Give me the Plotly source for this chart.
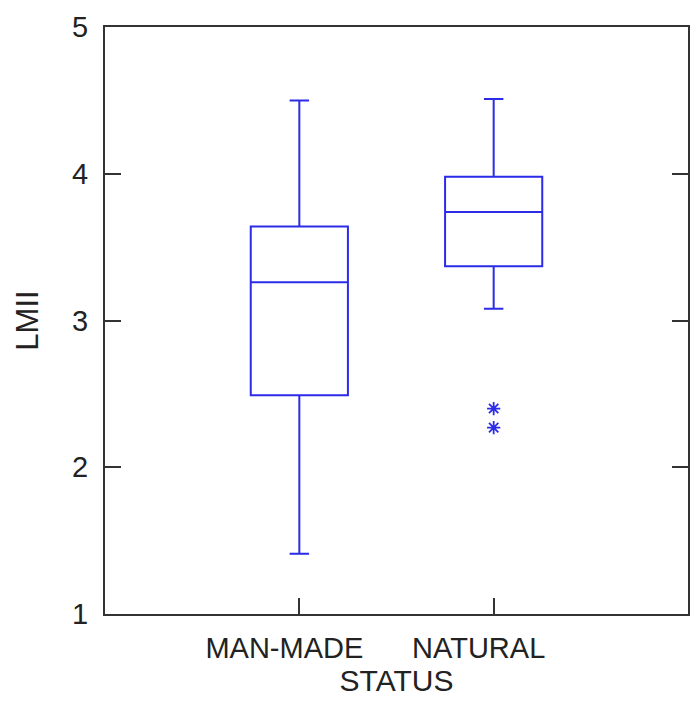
import plotly.graph_objects as go

categories = ["MAN-MADE", "NATURAL"]
q1 = [2.49, 3.37]
median = [3.26, 3.74]
q3 = [3.64, 3.98]
lower_whisker = [1.41, 3.08]
upper_whisker = [4.50, 4.51]
outlier_cat = ["NATURAL", "NATURAL"]
outlier_vals = [2.40, 2.27]
y_ticks = [1, 2, 3, 4, 5]

BLUE = "#2b2be8"
AXC = "#333333"
FONT = "Liberation Sans, Arial, sans-serif"

fig = go.Figure()
for i, c in enumerate(categories):
    fig.add_trace(go.Box(
        x=[c], q1=[q1[i]], median=[median[i]], q3=[q3[i]],
        lowerfence=[lower_whisker[i]], upperfence=[upper_whisker[i]],
        width=0.5, whiskerwidth=0.2,
        line=dict(color=BLUE, width=2), fillcolor="rgba(0,0,0,0)",
        boxpoints=False, showlegend=False,
    ))
fig.add_trace(go.Scatter(
    x=outlier_cat, y=outlier_vals, mode="markers",
    marker=dict(symbol="asterisk-open", size=11, color=BLUE,
                line=dict(color=BLUE, width=1.8)),
    showlegend=False,
))

fig.update_layout(
    width=692, height=705,
    margin=dict(l=105, r=2, t=27, b=91),
    paper_bgcolor="white", plot_bgcolor="white",
    font=dict(family=FONT, size=28, color="#222222"),
    xaxis=dict(
        type="category", categoryorder="array", categoryarray=categories,
        range=[-1, 2], showgrid=False, zeroline=False,
        showline=True, linecolor=AXC, linewidth=2, mirror=True,
        ticks="inside", ticklen=16, tickwidth=1.5, tickcolor=AXC,
        ticklabelstandoff=7, ticklabelshift=-15,
        title=dict(text="STATUS", standoff=0, font=dict(size=30)),
        tickfont=dict(size=29),
    ),
    yaxis=dict(
        range=[1, 5], tickvals=y_ticks, showgrid=False, zeroline=False,
        showline=True, linecolor=AXC, linewidth=2, mirror="allticks",
        ticks="inside", ticklen=16, tickwidth=1.5, tickcolor=AXC,
        ticklabelstandoff=9,
        title=dict(text="LMII", standoff=24, font=dict(size=31)),
        tickfont=dict(size=29),
    ),
)

fig.write_html("out.html")
